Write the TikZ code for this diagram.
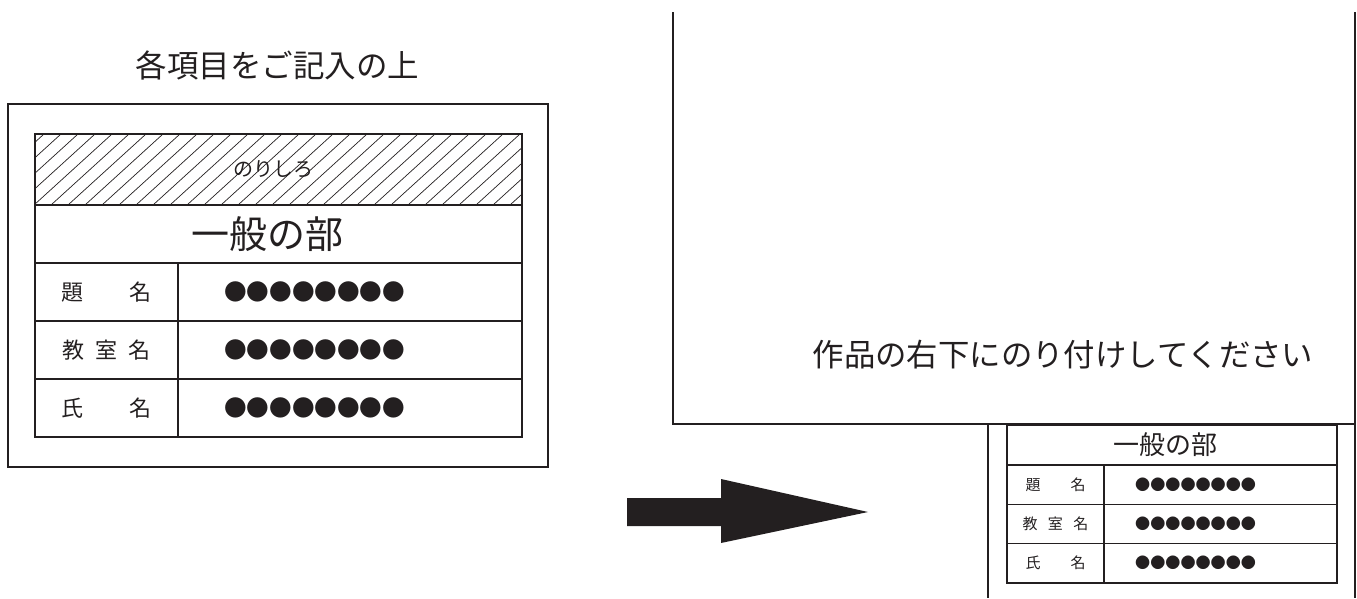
\documentclass[tikz,border=0pt]{standalone}
\usepackage{fontspec}
\setmainfont{Noto Sans CJK JP}
\usepackage{tikz}
\usetikzlibrary{positioning, backgrounds}
\definecolor{ink}{HTML}{231F20}
\tikzstyle{cell} = [rectangle, draw=ink, line width=1.6pt, outer sep=0pt, inner sep=0pt, text centered, align=center]
\tikzstyle{scell} = [cell, line width=1.3pt]
\tikzstyle{sheet} = [draw=ink, line width=2pt]
\tikzstyle{hatch} = [draw=ink, line width=0.7pt]
\tikzstyle{dots} = [inner sep=0pt, text=ink, font=\fontsize{22.6}{22.6}\selectfont]
\tikzstyle{sdots} = [inner sep=0pt, text=ink, font=\fontsize{15.1}{15.1}\selectfont]
\newcommand{\lbl}{\fontsize{22}{22}\selectfont}
\newcommand{\slbl}{\fontsize{15}{15}\selectfont}

\begin{document}
\begin{tikzpicture}[x=1pt, y=-1pt, text=ink]
    \useasboundingbox (0,0) rectangle (1357,598);
    % left: the card before pasting
    \node (Head) at (277.5,65) {\fontsize{31.5}{31.5}\selectfont 各項目をご記入の上};
    \node (Card) [sheet, outer sep=0pt, minimum width=540pt, minimum height=363pt] at (278,285.5) {};
    \node (Glue) [cell, minimum width=487pt, minimum height=71pt] at (278.5,169.5) {};
    \node (GlueText) at ([xshift=-5pt]Glue.center) {\fontsize{20}{20}\selectfont のりしろ};
    \begin{scope}[on background layer]
        \clip (Glue.south west) rectangle (Glue.north east);
        \foreach \x in {-85,-68,...,530}
            \draw [hatch] (\x,205) -- ++(78,-71);
    \end{scope}
    \node (Title) [cell, below=0pt of Glue, minimum width=487pt, minimum height=58pt] {};
    \node (TitleText) at ([xshift=-11pt]Title.center) {\fontsize{38}{38}\selectfont 一般の部};
    \node (Lab1) [cell, below right=0pt of Title.south west, minimum width=143pt, minimum height=58pt] {\lbl 題\hspace{2.1em}名};
    \node (Val1) [cell, right=0pt of Lab1, minimum width=344pt, minimum height=58pt] {};
    \node (Lab2) [cell, below=0pt of Lab1, minimum width=143pt, minimum height=58pt] {\lbl 教\hspace{.52em}室\hspace{.52em}名};
    \node (Val2) [cell, right=0pt of Lab2, minimum width=344pt, minimum height=58pt] {};
    \node (Lab3) [cell, below=0pt of Lab2, minimum width=143pt, minimum height=58pt] {\lbl 氏\hspace{2.1em}名};
    \node (Val3) [cell, right=0pt of Lab3, minimum width=344pt, minimum height=58pt] {};
    \node (Dots1) [dots, right=46pt of Val1.west] {●●●●●●●●};
    \node (Dots2) [dots, right=46pt of Val2.west] {●●●●●●●●};
    \node (Dots3) [dots, right=46pt of Val3.west] {●●●●●●●●};

    % arrow
    \fill [ink] (627,498) -- (721,498) -- (721,479) -- (868,512) -- (721,543) -- (721,526) -- (627,526) -- cycle;

    % right: the work with the card pasted
    \draw [sheet, line width=2.4pt] (673,12) |- (1355,424);
    \draw [sheet, line width=2.4pt] (1355,12) -- (1355,598);
    \draw [sheet] (988,424) -- (988,598);
    \node (Note) at (1063,355) {\fontsize{31.4}{31.4}\selectfont 作品の右下にのり付けしてください};
    \node (STitle) [scell, minimum width=330pt, minimum height=40pt] at (1172,445) {};
    \node (STitleText) at ([xshift=-7pt]STitle.center) {\fontsize{26}{26}\selectfont 一般の部};
    \node (SLab1) [scell, below right=0pt of STitle.south west, minimum width=97pt, minimum height=39.3pt] {\slbl 題\hspace{2em}名};
    \node (SVal1) [scell, right=0pt of SLab1, minimum width=233pt, minimum height=39.3pt] {};
    \node (SLab2) [scell, below=0pt of SLab1, minimum width=97pt, minimum height=39.3pt] {\slbl 教\hspace{.7em}室\hspace{.7em}名};
    \node (SVal2) [scell, right=0pt of SLab2, minimum width=233pt, minimum height=39.3pt] {};
    \node (SLab3) [scell, below=0pt of SLab2, minimum width=97pt, minimum height=39.3pt] {\slbl 氏\hspace{2em}名};
    \node (SVal3) [scell, right=0pt of SLab3, minimum width=233pt, minimum height=39.3pt] {};
    \node (SDots1) [sdots, right=31pt of SVal1.west] {●●●●●●●●};
    \node (SDots2) [sdots, right=31pt of SVal2.west] {●●●●●●●●};
    \node (SDots3) [sdots, right=31pt of SVal3.west] {●●●●●●●●};
\end{tikzpicture}
\end{document}
